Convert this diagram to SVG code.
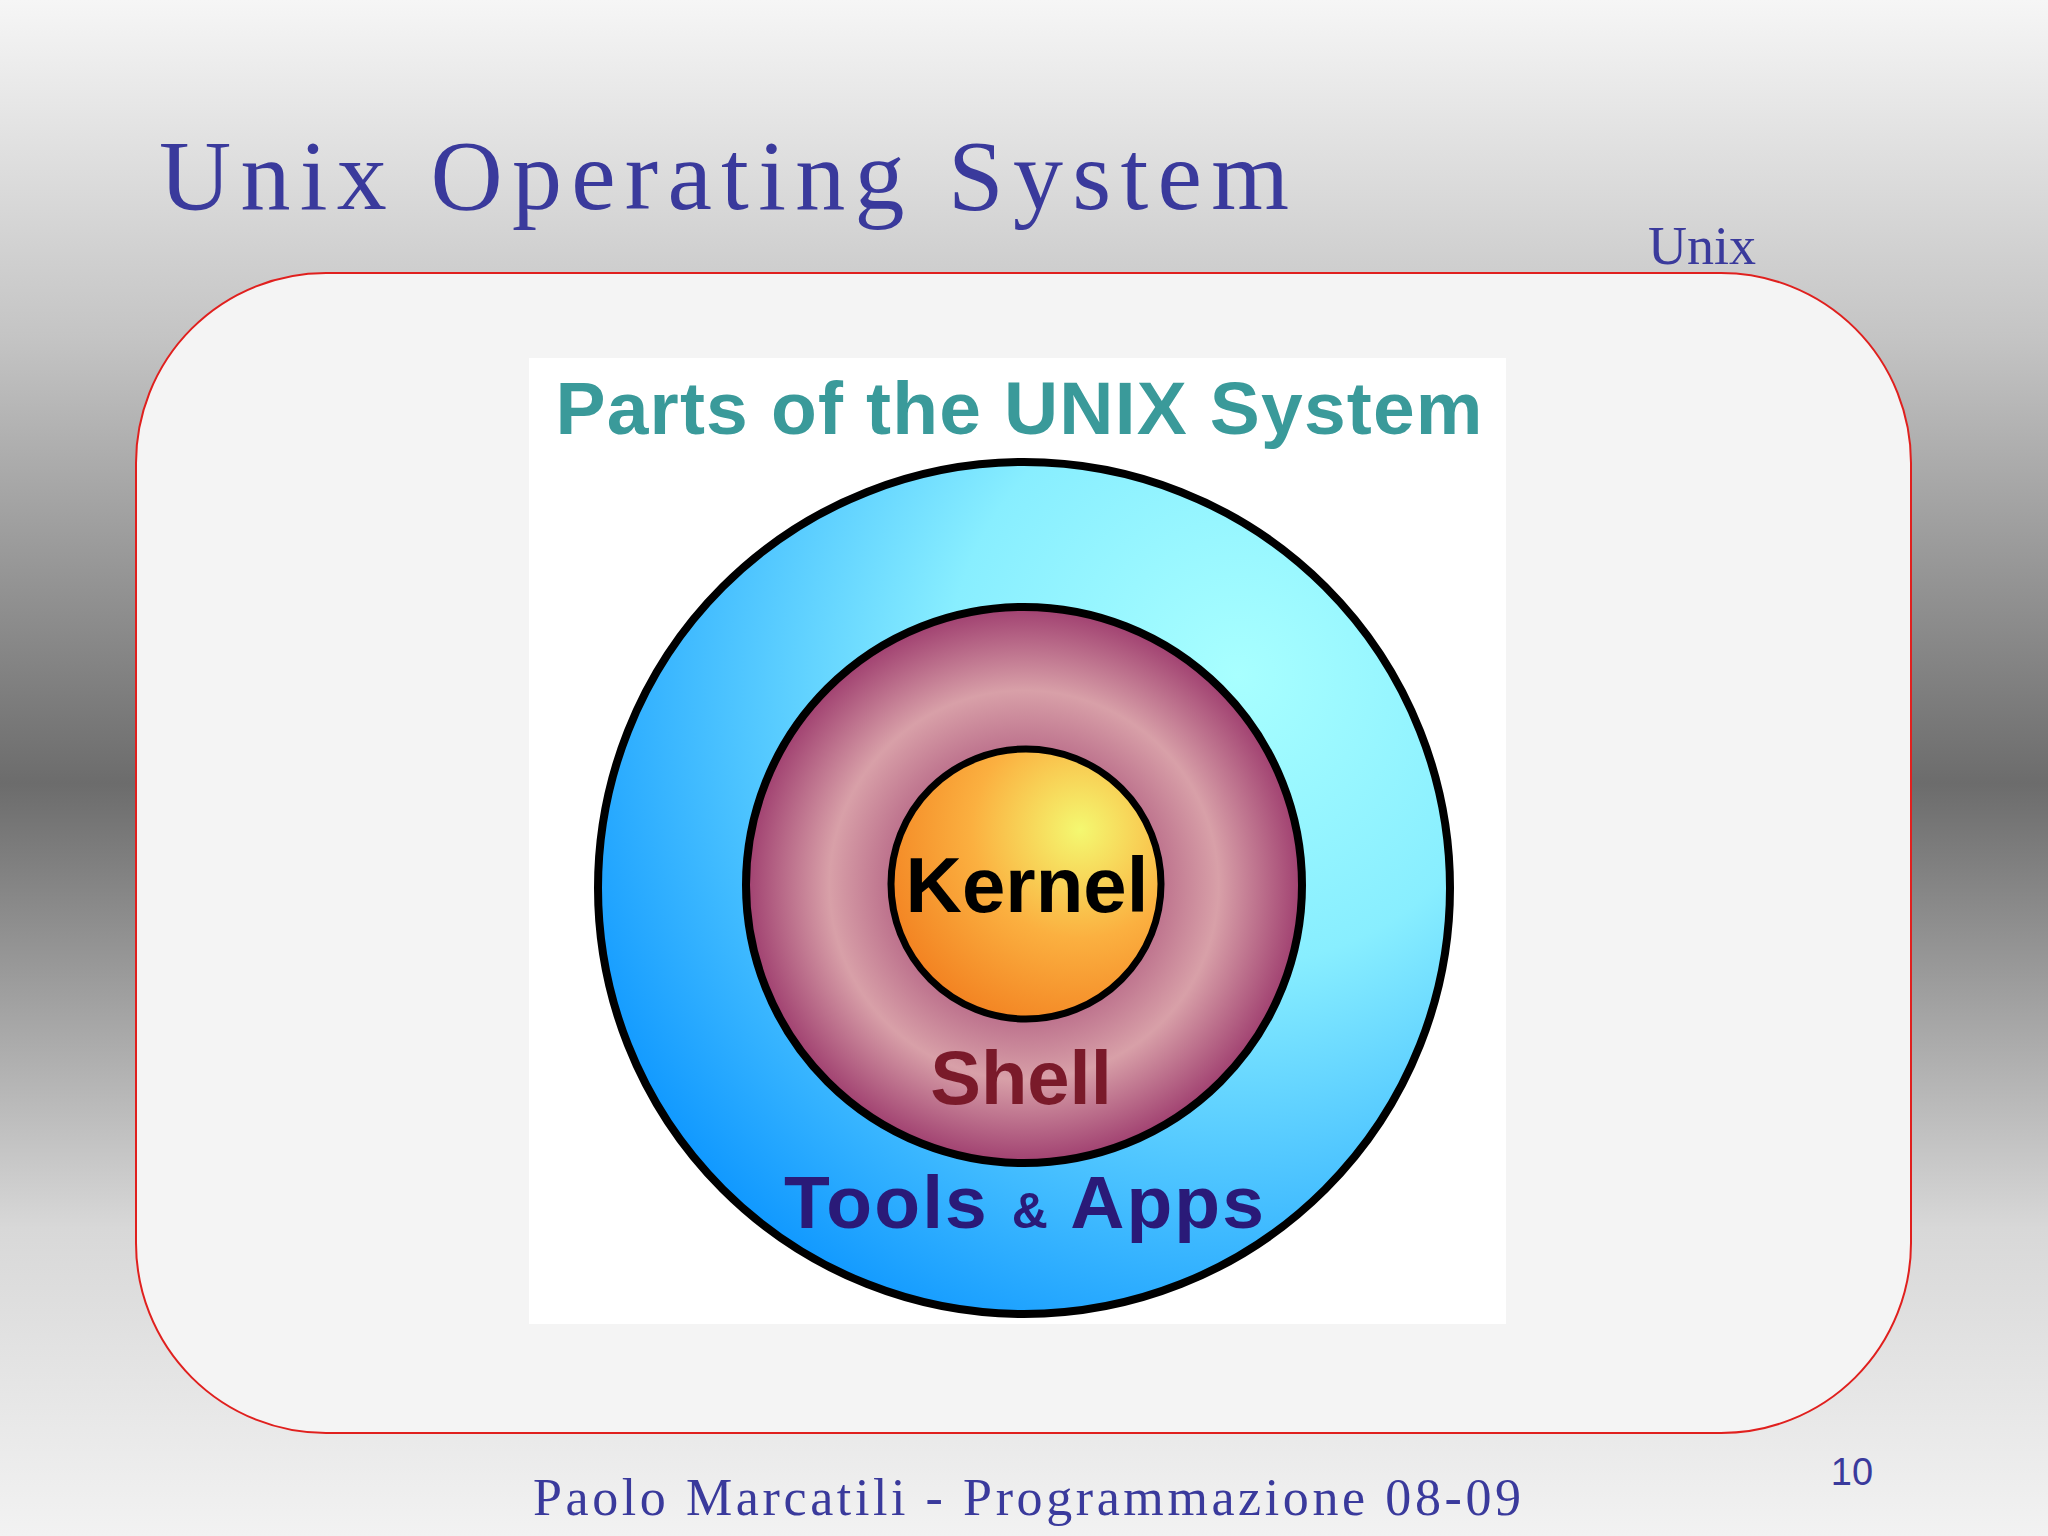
<svg xmlns="http://www.w3.org/2000/svg" width="2048" height="1536" viewBox="0 0 2048 1536">
<defs>
<linearGradient id="bg" x1="0" y1="0" x2="0" y2="1">
<stop offset="0" stop-color="#f6f6f6"/><stop offset="0.22" stop-color="#c4c4c4"/><stop offset="0.51" stop-color="#6c6c6c"/><stop offset="0.8" stop-color="#d8d8d8"/><stop offset="1" stop-color="#f2f2f2"/>
</linearGradient>
<radialGradient id="outer" cx="0.75" cy="0.25" r="0.85">
<stop offset="0" stop-color="#a8ffff"/><stop offset="0.4" stop-color="#88eeff"/><stop offset="1" stop-color="#1199ff"/>
</radialGradient>
<radialGradient id="mid" cx="0.5" cy="0.5" r="0.5">
<stop offset="0.45" stop-color="#b86a88"/><stop offset="0.7" stop-color="#d8a0a8"/><stop offset="1" stop-color="#a04070"/>
</radialGradient>
<radialGradient id="inner" cx="0.7" cy="0.3" r="0.8">
<stop offset="0" stop-color="#f4f870"/><stop offset="0.5" stop-color="#fbb040"/><stop offset="1" stop-color="#f28020"/>
</radialGradient>
<style>
.t{font-family:"Liberation Serif",serif;fill:#3a3a9c}
.b{font-family:"Liberation Sans",Arial,sans-serif;font-weight:bold;text-anchor:middle}
</style>
</defs>
<rect width="2048" height="1536" fill="url(#bg)"/>
<text class="t" x="159" y="209" font-size="100" textLength="1130">Unix Operating System</text>
<text class="t" x="1648" y="264" font-size="54">Unix</text>
<rect x="136" y="273" width="1775" height="1160" rx="190" fill="#f4f4f4" stroke="#e0201e" stroke-width="2"/>
<g id="image">
<rect x="529" y="358" width="977" height="966" fill="#fff"/>
<text class="b" x="1019" y="434" font-size="75" fill="#3a9a9a" textLength="927">Parts of the UNIX System</text>
</g>
<g id="tools"><circle cx="1024" cy="888" r="426" fill="url(#outer)" stroke="#000" stroke-width="8"/>
<text class="b" x="1024" y="1228" font-size="75" fill="#2a1a78" textLength="480">Tools <tspan font-size="50">&amp;</tspan> Apps</text></g>
<g id="shell"><circle cx="1024" cy="885" r="278" fill="url(#mid)" stroke="#000" stroke-width="8"/>
<text class="b" x="1021" y="1104" font-size="76" fill="#7a1a2a">Shell</text></g>
<g id="kernel"><circle cx="1026" cy="884" r="135" fill="url(#inner)" stroke="#000" stroke-width="7"/>
<text class="b" x="1027" y="912" font-size="78" fill="#000">Kernel</text></g>
<text class="t" x="1027" y="1515" font-size="52" text-anchor="middle" textLength="988">Paolo Marcatili - Programmazione 08-09</text>
<text x="1852" y="1485" font-size="38" fill="#3a3a9c" font-family="Liberation Sans,sans-serif" text-anchor="middle">10</text>
</svg>
